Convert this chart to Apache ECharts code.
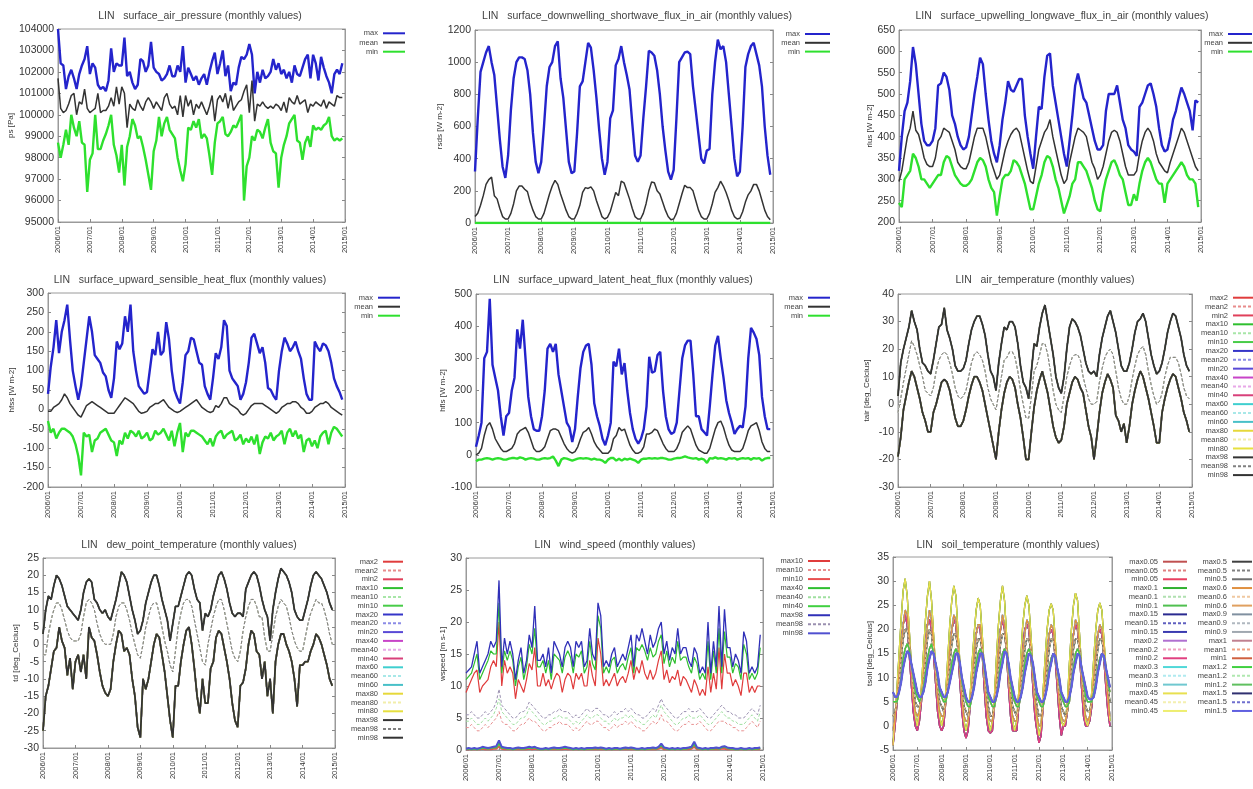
<!DOCTYPE html>
<html><head><meta charset="utf-8">
<script src="https://cdn.jsdelivr.net/npm/echarts@6.0.0/dist/echarts.min.js"></script>
<style>html,body{margin:0;padding:0;background:#fff}#c{width:1253px;height:789px}</style>
</head><body><div id="c"></div>
<script>
// ---------- categories ----------
const months = [];
for (let y = 2006; y <= 2015; y++) {
  for (let m = 1; m <= 12; m++) {
    if (y === 2015 && m > 1) break;
    months.push(y + '/' + (m < 10 ? '0' + m : '' + m));
  }
}

// ---------- surface_air_pressure ----------
const psMax = [
104000,102400,102300,101200,101800,102100,101700,101200,101900,102300,102600,103200,
101900,102400,102200,101400,101200,101300,101100,101600,103100,102000,102400,102300,
102300,103600,101800,102000,101500,101200,101400,102600,102500,102000,102300,103400,
102200,102000,101900,101600,101700,101900,102300,101800,101800,102300,102000,103200,
101500,102200,101900,101600,101800,101400,101700,101900,101400,102000,102500,102900,
101900,102400,103000,101800,102300,101100,101500,101400,102200,102700,102600,102800,
103300,102800,101000,102000,101500,102100,101700,101800,102000,102600,102100,102400,
101900,102100,101700,102000,101500,102300,101900,101800,102200,102600,102800,101700,
102800,102400,101600,102700,102200,101800,101500,101000,101900,102100,101900,102400];
const psMean = [
101700,100300,100100,100200,100500,100900,101000,100000,100600,100500,101200,100300,
100100,100200,100300,101000,100100,100200,100200,100400,100800,100400,101300,100500,
101300,101000,99400,100500,100300,100200,100700,100400,100200,100600,100800,100600,
100300,100600,100400,100200,100800,101000,100500,100300,100400,100000,100900,99900,
100900,100400,100700,100000,100500,100300,100600,100300,100000,100400,100900,99700,
100700,100900,100600,101000,100300,100900,100200,100400,100600,100700,101100,101400,
100100,101600,99700,100500,100400,100600,100400,100300,100400,100300,100500,100400,
100200,100600,100100,100800,100600,100500,100900,100500,100600,100700,100100,100500,
100400,100600,100500,100400,100700,100300,100600,100500,100400,100900,100800,100800];
const psMin = [
98700,98000,98600,99300,98600,100000,99400,99000,99700,98700,98600,96400,
97900,98200,100000,98400,98400,98800,99100,99500,100000,98600,98100,97300,
98600,96700,98500,99000,99800,99500,98900,99000,98500,97900,97200,96500,
98300,98800,99900,99000,99600,99900,99300,99100,98900,98000,97400,96900,
97700,99400,99300,99700,99400,99800,98900,99100,98900,98100,97200,98700,
99600,99700,99900,99100,99000,99200,99500,99400,99700,100000,96000,97600,
98000,99000,98800,99300,99200,98900,99400,99800,98700,98300,98200,96600,
98000,98600,99000,99600,99800,100000,98800,98700,97900,98700,99000,98500,
99500,99300,99400,99300,99500,99600,99900,99000,98800,98900,98800,98900];

// ---------- surface_downwelling_shortwave_flux_in_air ----------
const rsdsMax = [
320,650,940,1000,1060,1100,1000,920,720,520,350,280,
420,700,900,1000,1030,1030,1020,950,800,560,380,310,
380,600,850,970,1000,1100,1130,900,780,580,380,310,
320,560,850,880,1000,1120,1090,950,780,580,400,300,
380,650,700,980,1020,1100,1000,920,830,620,420,380,
420,650,850,1070,1060,1040,950,800,600,450,320,270,
330,650,1000,1030,1060,1065,1050,850,700,550,400,370,
450,460,800,1000,1140,1080,1100,1000,800,600,400,290,
320,600,970,1050,1100,1120,1050,980,850,600,420,300];
const rsdsMean = [
40,60,110,170,240,270,285,170,150,90,40,25,
25,60,120,200,230,230,210,195,130,80,40,25,
25,60,120,180,230,265,240,180,130,80,40,25,
25,60,110,190,220,215,225,200,140,90,40,25,
35,70,130,190,170,260,250,200,150,90,40,25,
25,60,120,200,255,250,200,180,130,80,40,20,
25,60,120,180,235,220,220,200,140,80,40,25,
25,60,120,190,220,260,230,190,140,80,40,25,
30,70,130,175,200,240,240,200,140,80,40,20];
const rsdsMin = [
0,0,0,0,0,0,0,0,0,0,0,0,
0,0,0,0,0,0,0,0,0,0,0,0,
0,0,0,0,0,0,0,0,0,0,0,0,
0,0,0,0,0,0,0,0,0,0,0,0,
0,0,0,0,0,0,0,0,0,0,0,0,
0,0,0,0,0,0,0,0,0,0,0,0,
0,0,0,0,0,0,0,0,0,0,0,0,
0,0,0,0,0,0,0,0,0,0,0,0,
0,0,0,0,0,0,0,0,0,0,0,0];

// ---------- surface_upwelling_longwave_flux_in_air ----------
const rlusMax = [
320,400,460,480,530,610,570,500,430,390,380,380,
390,420,520,525,550,540,510,450,430,400,380,370,
375,400,450,500,540,585,570,500,440,390,360,340,
380,440,480,530,510,505,520,535,535,450,400,360,
325,400,470,465,540,590,595,520,480,440,400,360,
330,390,450,520,548,520,490,480,450,420,390,370,
370,380,460,500,500,500,520,480,440,420,380,370,
365,355,470,480,500,520,525,500,470,420,380,365,
370,400,440,460,490,515,500,480,460,415,485,480];
const rlusMean = [
295,320,360,400,420,460,415,405,380,350,335,330,
330,350,390,400,420,415,410,390,370,340,330,325,
325,340,370,400,420,420,420,400,370,340,320,300,
310,340,370,390,405,415,420,410,380,350,320,295,
290,330,370,390,410,420,440,400,370,340,310,290,
300,340,370,400,420,415,410,400,370,340,325,300,
310,330,360,390,410,415,410,390,360,330,310,310,
310,320,360,390,410,420,410,390,360,340,330,320,
315,340,360,380,400,420,410,390,370,350,330,320];
const rlusMin = [
245,235,300,310,320,360,350,330,300,300,290,280,
290,300,310,310,340,355,350,330,310,300,290,285,
285,290,300,320,340,350,345,330,300,280,270,215,
260,300,310,310,320,345,340,330,310,290,260,230,
230,260,290,310,340,355,350,330,300,280,250,220,
240,260,290,300,340,340,330,320,300,280,250,230,
225,270,300,320,340,345,330,310,300,270,240,240,
265,250,290,320,340,350,340,320,300,290,290,245,
290,300,310,320,330,340,330,310,300,300,290,235];

// ---------- surface_upward_sensible_heat_flux ----------
const hfssMax = [
40,110,160,230,145,200,230,270,180,100,60,25,
60,120,180,240,200,140,130,120,95,85,50,30,
80,175,155,170,240,200,270,150,100,60,50,40,
45,100,155,140,200,140,150,225,180,100,50,30,
15,70,140,150,185,180,150,120,115,60,40,25,
80,145,130,160,230,215,100,80,70,60,25,40,
70,120,185,195,170,145,160,120,55,50,35,25,
100,150,185,170,150,160,175,150,130,80,40,25,
25,175,160,150,170,165,150,120,80,60,45,25];
const hfssMean = [
-5,-5,5,10,15,25,40,30,15,5,-5,-15,
-20,-5,10,15,20,15,10,5,0,-5,-10,-10,
-10,0,10,20,30,25,20,15,5,-5,-10,-8,
-5,5,10,15,15,20,25,15,5,0,-5,-8,
-5,0,5,10,15,20,25,15,5,0,-5,-8,
-5,10,5,15,30,30,15,10,5,0,-10,-15,
-10,0,10,15,15,15,15,10,5,0,-5,-10,
-5,5,10,15,15,20,20,15,5,0,-10,-10,
-5,5,10,15,15,20,15,5,0,-5,-10,-15];
const hfssMin = [
-30,-60,-50,-75,-60,-50,-50,-55,-60,-70,-90,-120,
-170,-60,-70,-65,-110,-80,-75,-60,-55,-50,-65,-80,
-85,-120,-80,-90,-60,-75,-55,-60,-70,-55,-75,-70,
-60,-80,-75,-55,-65,-60,-50,-65,-80,-55,-95,-60,
-35,-110,-60,-70,-55,-55,-60,-65,-70,-80,-90,-75,
-95,-70,-60,-55,-75,-65,-60,-55,-80,-75,-65,-90,
-75,-85,-70,-90,-65,-115,-85,-70,-75,-60,-80,-70,
-65,-55,-90,-60,-50,-70,-55,-75,-65,-110,-80,-75,
-95,-80,-100,-70,-60,-55,-90,-60,-45,-50,-60,-70];

// ---------- surface_upward_latent_heat_flux ----------
const hflsMax = [
25,60,100,300,320,485,280,240,200,120,60,120,
130,200,240,390,330,420,300,180,120,80,75,75,
120,200,330,345,320,345,250,200,150,100,85,40,
80,180,270,320,340,345,280,160,120,90,50,30,
60,100,290,275,330,250,285,200,130,80,50,35,
50,80,150,305,255,260,310,320,200,120,80,65,
70,100,200,300,340,355,355,250,120,120,80,70,
60,150,250,340,370,300,240,170,130,100,65,80,
90,85,150,300,395,380,360,310,180,120,80,80];
const hflsMean = [
0,5,20,60,90,100,80,50,35,20,10,10,
15,20,35,65,75,80,85,70,45,20,10,10,
15,25,50,75,80,80,75,55,35,20,10,5,
10,25,50,70,75,85,65,40,25,15,5,5,
5,15,50,60,85,75,80,55,30,15,5,5,
10,25,65,65,70,80,75,55,35,20,10,10,
10,20,40,70,80,90,80,55,30,15,10,5,
5,20,50,80,100,105,85,55,30,15,10,10,
10,20,45,75,90,95,100,75,40,20,10,10];
const hflsMin = [
-20,-15,-15,-12,-10,-12,-15,-12,-10,-12,-15,-15,
-12,-10,-10,-12,-8,-10,-15,-12,-10,-12,-15,-15,
-12,-10,-12,-10,-5,-18,-35,-15,-10,-12,-15,-18,
-15,-12,-10,-12,-10,-12,-15,-12,-15,-15,-18,-25,
-15,-10,-10,-18,-12,-18,-12,-15,-12,-15,-18,-25,
-15,-12,-12,-10,-12,-10,-12,-10,-10,-12,-15,-15,
-12,-10,-10,-8,-5,-8,-10,-12,-10,-15,-12,-15,
-25,-10,-12,-8,-12,-10,-12,-15,-10,-12,-10,-15,
-12,-10,-12,-10,-15,-10,-12,-10,-18,-12,-10,-10];

// ---------- air_temperature ----------
const tairMax = [
3,15,20,24,28,34,30,27,20,15,14,12,
11,16,22,28,29,35,27,24,20,14,12,12,
13,16,22,27,30,32,32,29,25,18,12,10,
5,15,22,28,27,30,30,28,22,14,8,6,
2,12,22,21,28,33,36,30,24,18,10,6,
4,10,20,28,31,30,28,25,20,15,12,11,
12,10,18,24,28,32,34,30,26,20,14,12,
12,15,20,26,30,31,33,30,24,18,14,11,
12,15,20,26,30,33,32,28,24,18,14,12];
const tairMean = [
-3,2,8,13,18,23,21,18,14,10,5,4,
3,6,12,16,18,19,18,15,11,6,3,2,
3,5,10,15,18,19,18,16,12,6,2,0,
-2,4,10,16,17,19,19,17,12,5,0,-5,
-5,3,12,14,18,22,22,18,12,5,0,-2,
-3,3,10,14,17,18,18,16,10,6,2,0,
0,1,8,13,17,19,20,18,12,6,2,0,
0,3,9,14,18,20,21,18,12,7,3,0,
1,4,10,14,17,17,17,15,11,6,3,2];
const tairMin = [
-19,-12,-2,3,8,12,10,6,2,-3,-6,-10,
-10,-3,0,4,8,9,8,5,0,-5,-8,-8,
-6,-2,3,7,10,10,8,5,0,-5,-10,-15,
-20,-10,-2,4,8,10,9,6,0,-5,-12,-20,
-20,-10,-1,5,9,12,8,4,-2,-8,-12,-14,
-13,-8,0,4,8,10,9,6,4,-2,-8,-12,
-20,-12,-3,4,8,11,9,6,-4,-6,-10,-7,
-14,-8,0,5,9,12,10,6,2,-3,-8,-14,
-14,-3,2,6,9,11,10,6,2,-3,-6,-10];

// ---------- dew_point_temperature ----------
const tdMax = [
3,10,14,13,17,20,19,17,14,11,10,9,
8,7,10,15,18,19,18,13,12,10,9,10,
8,7,10,13,17,21,20,18,14,10,7,3,
4,7,12,15,18,20,20,17,13,10,7,1,
6,11,11,14,17,20,21,20,16,13,12,4,
9,8,10,14,17,20,21,19,16,12,9,8,
9,9,8,16,18,20,21,20,17,13,10,8,
1,10,15,19,22,21,20,18,15,10,8,7,
7,10,13,17,20,21,20,19,17,15,12,10];
const tdMean = [
-3,-3,3,7,10,12,12,10,7,4,2,1,
1,1,3,8,12,13,12,10,6,3,1,0,
0,0,3,8,11,12,12,10,7,3,0,-3,
-4,0,5,8,11,12,12,9,5,1,-2,-6,
-8,-2,5,9,12,13,13,11,7,3,-1,-5,
-6,0,4,8,11,13,13,10,6,2,-2,-4,
-5,-2,4,8,11,13,13,11,8,8,2,-2,
-2,3,8,11,13,12,11,8,4,1,-1,-2,
-2,2,6,9,11,13,12,12,10,7,3,0];
const tdMin = [
-25,-15,-12,-7,-2,-1,5,1,-1,-9,-4,-13,
-5,-3,-8,-3,-10,5,2,1,-3,-8,-12,-14,
-15,-13,-5,0,4,3,-2,-1,-3,-10,-15,-24,
-27,-10,-13,-10,-5,0,3,2,-3,-8,-15,-22,
-27,-12,-12,-5,0,4,5,0,-7,-15,-20,-10,
-17,-17,-7,-5,2,4,3,-1,-5,-10,-17,-22,
-24,-12,-11,-7,0,4,3,-2,-3,-10,-5,-15,
-10,-20,-5,0,3,3,0,-2,-5,-10,-18,-6,
-6,-5,-5,-2,0,3,2,0,-3,-6,-10,-12];

// ---------- wind_speed ----------
const wsMax10 = [
9,10,11,12,12.5,9,10,10.5,11,13,14,13,
20,10,14,12,13,12,8,11,10,9,11,13.5,
12.5,16,10,10,12,10,11,9.5,11,12,11.5,9,
11,12,11.5,9.5,12,11,12,10,10,14,11.5,10,
17.5,15,10,11,10,11,12,10,11,11.5,10.5,12,
14,11,13,12,14,12,11,12.5,11,12,14,15.5,
11,12.5,10.5,11.5,11,12.5,10,11.5,11,10,9,11,
10,8.5,9.5,8.5,13,9,12,9.5,16,9.5,15,12,
12,10,11,10,8.5,12,12,9,10,9,10,10];
const wsMean10 = [
3.5,3.5,4,3.5,3,3,3.5,4,3.5,4,4.5,5,
6,4.5,4,4,3.5,3,3,3.5,4,4,4.5,5,
4.5,4.5,4,3.5,3,3,3.5,3.5,4,4,4.5,4,
4,4,3.5,3,3.5,3,3.5,4,4.5,4,4,4.5,
4.5,4,3.5,3.5,3,3.5,4,3.5,4,4,4.5,4,
4.5,4,3.5,3.5,3,3,3.5,4,4.5,4,4.5,5.5,
4.5,4.5,4,3.5,3,3,3.5,4,4,4.5,4,4,
4,4.5,4,3.5,3,3,3.5,4,4.5,4.5,4.5,4,
4,3.5,3.5,3,3,3,3.5,4,4.5,4,3.5,4.5];
const wsMin10 = [
0.1,0.1,0.1,0.1,0.1,0.1,0.2,0.1,0.1,0.1,0.2,0.2,
0.6,0.2,0.1,0.1,0.1,0.1,0.1,0.1,0.1,0.1,0.1,0.2,
0.1,0.2,0.1,0.1,0.1,0.1,0.1,0.1,0.1,0.1,0.1,0.1,
0.2,0.1,0.1,0.1,0.1,0.1,0.1,0.1,0.1,0.1,0.1,0.1,
0.1,0.1,0.1,0.1,0.1,0.1,0.1,0.1,0.1,0.1,0.1,0.1,
0.1,0.1,0.1,0.1,0.1,0.1,0.1,0.1,0.1,0.1,0.2,0.4,
0.1,0.1,0.1,0.1,0.1,0.1,0.1,0.1,0.1,0.1,0.2,0.5,
0.1,0.1,0.1,0.1,0.1,0.1,0.1,0.1,0.1,0.2,0.2,0.1,
0.1,0.1,0.1,0.1,0.1,0.1,0.1,0.1,0.1,0.1,0.1,0.1];
const wsMax40 = [
11,11.5,12,13.5,15,11,12,13,14,15.5,15,15,
23,12,15.5,14,15.5,14,10,13,14.5,11,13,16.5,
15,19,13,13,14,12,14,11,15,14.5,14,12,
14.5,15.5,14.5,12,15,14.5,15.5,12,13,17,13.5,12.5,
21,19,12,13,12,14,14.5,12,13,13.5,12.5,14.5,
16,12,16,15.5,16.5,15.5,14,16,14.5,15,17,18,
13.5,15.5,13,14.5,13.5,17,14,14.5,14.5,13,12,14.5,
13.5,11,12,11,17,11,15.5,12,19,12,18.5,14.5,
14.5,12,13.5,13,11,16.5,15,11,12,11,12,16];
const wsMean40 = [
4.5,4.5,5,4.5,4,4,4.5,5,4.5,5,5.5,6.5,
8,6,5.5,5,4.5,4,4,4.5,5,5,5.5,6.5,
6,5.5,5,4.5,4,4,4.5,4.5,5,5,5.5,5,
5,5,4.5,4,4.5,4,4.5,5,5.5,5,5,5.5,
5.5,5,4.5,4.5,4,4.5,5,4.5,5,5,5.5,5,
5.5,5,4.5,4.5,4,4,4.5,5,5.5,5,6,7,
6,5.5,5,4.5,4,4,4.5,5,5,5.5,5,5,
5,5.5,5,4.5,4,4,4.5,5,5.5,6,5.5,5,
5,4.5,4.5,4,4,4,4.5,5,5.5,5,4.5,6];
const wsMin40 = [
0.2,0.2,0.1,0.2,0.1,0.2,0.3,0.3,0.2,0.3,0.4,0.4,
1.0,0.3,0.3,0.2,0.2,0.1,0.2,0.3,0.2,0.2,0.3,0.3,
0.3,0.4,0.2,0.1,0.1,0.2,0.1,0.2,0.3,0.2,0.2,0.3,
0.3,0.3,0.2,0.1,0.2,0.1,0.2,0.1,0.2,0.2,0.2,0.3,
0.2,0.3,0.2,0.1,0.2,0.1,0.2,0.2,0.1,0.2,0.3,0.2,
0.3,0.2,0.1,0.1,0.2,0.1,0.2,0.2,0.3,0.2,0.4,0.7,
0.3,0.2,0.1,0.2,0.1,0.2,0.1,0.2,0.2,0.3,0.4,0.9,
0.3,0.2,0.1,0.2,0.1,0.2,0.2,0.3,0.2,0.4,0.5,0.3,
0.2,0.2,0.1,0.1,0.2,0.1,0.1,0.2,0.1,0.2,0.2,0.3];
const wsMax98 = [
12,12.5,13,15,17,12,13,14,15,17,16,17,
26.5,13,17.5,15,17,15,11,14,16,12,14,18,
16,22.5,14,14,15,13,16,12,17,16,15,13,
16,17,16,13,17,16,17,13,14,19,15,14,
23,21,13,14,13,15,16,13,14,15,14,16,
18,13,18,17,19,17,15,18,16,17,19,20,
15,17,14,16,15,19,15,16,16,14,13,16,
15,12,13,12,20,12,17,13,22.5,13,22,16,
16,13,15,14,12,18.5,17,12,13,12,13,18];
const wsMean98 = [
5.5,5.5,6,5.5,5,5,5.5,6,5.5,6,6.5,7.5,
9.5,7,6.5,6,5.5,5,5,5.5,6,6,6.5,7.5,
7,6.5,6,5.5,5,5,5.5,5.5,6,6,6.5,6,
6,6,5.5,5,5.5,5,5.5,6,6.5,6,6,6.5,
6.5,6,5.5,5.5,5,5.5,6,5.5,6,6,6.5,6,
6.5,6,5.5,5.5,5,5,5.5,6,6.5,6,7,8,
7,6.5,6,5.5,5,5,5.5,6,6,6.5,6,6,
6,6.5,6,5.5,5,5,5.5,6,6.5,7,6.5,6,
6,5.5,5.5,5,5,5,5.5,6,6.5,6,5.5,7];
const wsMin98 = [
0.2,0.3,0.2,0.3,0.2,0.3,0.5,0.4,0.3,0.4,0.5,0.6,
1.5,0.5,0.4,0.3,0.3,0.2,0.3,0.4,0.3,0.3,0.4,0.5,
0.4,0.5,0.3,0.2,0.2,0.3,0.2,0.3,0.4,0.3,0.3,0.4,
0.5,0.4,0.3,0.2,0.3,0.2,0.3,0.2,0.3,0.3,0.3,0.4,
0.3,0.4,0.3,0.2,0.3,0.2,0.3,0.3,0.2,0.3,0.4,0.3,
0.4,0.3,0.2,0.2,0.3,0.2,0.3,0.3,0.4,0.3,0.5,1.0,
0.4,0.3,0.2,0.3,0.2,0.3,0.2,0.3,0.3,0.4,0.5,1.3,
0.4,0.3,0.2,0.3,0.2,0.3,0.3,0.4,0.3,0.5,0.6,0.4,
0.3,0.3,0.2,0.2,0.3,0.2,0.2,0.3,0.2,0.3,0.3,0.4];

// ---------- soil_temperature (depth groups) ----------
const soilA = [
-4,2,8,15,22,28,30.5,27,20,13,6,2,
0,3,8,15,22,27,30,26,19,12,6,2,
0,2,7,14,21,26,29,27,20,13,6,1,
-1,1,6,13,19,24,26.5,25,19,12,5,1,
-1,1,6,14,21,26,29,26,19,11,5,1,
-1,1,7,14,21,25,27,25,19,12,5,1,
-2,0,7,14,20,24,25.3,24,18,11,5,1,
0,1,5,13,20,25,27.5,26,19,12,5,1,
0,2,7,14,20,24,25.5,24,18,12,6,1];
const soilB = [
-4,0,5,11,17,21,23,21,15,9,3,0,
-1,1,5,11,17,21,22,20,15,9,3,0,
-1,0,5,10,16,20,22,21,16,9,3,-1,
-2.5,-1,4,10,15,19,21,20,15,8,2,-1,
-1.5,-1,4,10,16,20,22,20,15,8,2,-1,
-1,-1,4,10,16,20,21,20,15,8,2,-1,
-3.5,-2,4,10,15,19,20,19,14,8,2,-2,
0,0,3,9,15,19,21,20,15,8,2,0,
0,1,4,10,15,19,20,19,14,8,3,0];
const soilC = [
-1,2,6,11,16,21,24,23,18,12,6,3,
2,3,6,11,16,21,24,22,17,11,6,3,
2,2,5,10,16,20,23,22,17,11,6,2,
1,1,4,9,15,19,21,21,16,10,5,2,
1,1,4,10,15,20,23,21,16,10,5,2,
1,1,5,10,15,19,22,21,16,10,5,2,
0,0,4,10,15,19,21,20,16,10,5,2,
1,1,3,9,15,19,22,21,16,10,5,2,
1,2,5,10,15,19,21,20,16,10,6,2];
const soilD = [
2,3,5,9,14,18,20,20,17,13,8,5,
4,4,6,9,14,18,20,19,16,12,8,5,
4,3,5,9,13,17,19,19,16,12,8,4,
3,2,4,8,12,16,18,18,16,12,7,4,
2,2,4,8,12,17,19,19,16,12,7,4,
3,2,4,8,12,16,18,18,16,12,7,4,
2,2,4,8,12,16,18,18,15,11,7,4,
3,2,3,7,12,16,18,18,16,12,7,4,
3,3,5,8,12,16,18,18,15,12,8,5];
const soilE = [
5,5,5,7,10,14,16,17,16,13,10,7,
6,5,6,8,11,14,16,17,15,13,10,7,
6,5,5,7,10,13,15,16,15,13,9,7,
5,4,4,6,9,13,15,16,15,12,9,6,
5,4,4,6,9,13,15,16,15,12,9,6,
5,4,4,6,9,13,15,16,15,12,9,6,
5,4,4,6,9,12,14,15,14,12,9,6,
5,4,4,5,9,12,15,16,15,12,9,6,
5,5,5,7,9,12,14,15,14,12,9,7];
const soilF = [
7,6,6,7,9,12,14,15.5,15,13,11,9,
7,6,6,7,9,12,14,15.5,15,13,11,8,
7,6,6,7,9,11,13,15,15,13,10,8,
6,5,5,6,8,11,13,15,15,13,10,7,
6,5,5,6,8,11,13,15.5,15,13,10,8,
6,5,5,6,8,11,13,15,14.5,13,10,7,
6,5,5,6,8,11,13,15,14.5,12,10,7,
6,5,5,6,8,11,13,15,14.5,12,10,8,
6,5.5,5.5,6,8,11,13,15,14.5,12,10,8];

// ---------- tick labels / names ----------
const panelTitles = [
  'LIN   surface_air_pressure (monthly values)',
  'LIN   surface_downwelling_shortwave_flux_in_air (monthly values)',
  'LIN   surface_upwelling_longwave_flux_in_air (monthly values)',
  'LIN   surface_upward_sensible_heat_flux (monthly values)',
  'LIN   surface_upward_latent_heat_flux (monthly values)',
  'LIN   air_temperature (monthly values)',
  'LIN   dew_point_temperature (monthly values)',
  'LIN   wind_speed (monthly values)',
  'LIN   soil_temperature (monthly values)'];
const yNames = ['ps [Pa]','rsds [W m-2]','rlus [W m-2]','hfss [W m-2]','hfls [W m-2]',
  'tair [deg_Celcius]','td [deg_Celcius]','wspeed [m s-1]','tsoil [deg_Celcius]'];
const yRanges = [[95000,104000,1000],[0,1200,200],[200,650,50],[-200,300,50],[-100,500,100],
  [-30,40,10],[-30,25,5],[0,30,5],[-5,35,5]];

// ---------- layout ----------
const grids = [
  [58,29,287,193],[475,30,298,193],[899,30,302,192],
  [48,293,297,194],[476,294,297,193],[898,294,294,193],
  [43,558,292,190],[466,558,297,192],[893,557,219,193]];
const nameGaps = [39,26,23,32,26,27,19,17,16];
const titlePos = [[200,16],[637,16],[1062,16],[190,280],[623,280],[1045,280],[189,545],[615,545],[1008,545]];

const BLUE = '#2424cc', DARK = '#333333', GREEN = '#2ee02e';
function triple(mx, mn, mi) {
  return [
    {name:'max', data:mx, color:BLUE, width:2.4},
    {name:'mean', data:mn, color:DARK, width:1.5},
    {name:'min', data:mi, color:GREEN, width:2.4}];
}
const heightStyles = [
  ['2','#e03c3c','#e88c8c','#e0405a'],
  ['10','#2fbf2f','#a8e6a8','#48cc48'],
  ['20','#3535c8','#8c8ce6','#5a4ad6'],
  ['40','#c844c8','#e8a8e8','#d8407a'],
  ['60','#3fcfcf','#a8e8e8','#48c0c8'],
  ['80','#e6d83a','#f2eeaa','#e6e040'],
  ['98','#333333','#808080','#333333']];
function heights(mx, mn, mi) {
  const out = [];
  heightStyles.forEach(h => {
    const thick = h[0] === '98' ? 1.8 : 1.2;
    out.push({name:'max' + h[0], data:mx, color:h[1], width:thick});
    out.push({name:'mean' + h[0], data:mn, color:h[2], width:1, dash:true});
    out.push({name:'min' + h[0], data:mi, color:h[3], width:h[0] === '98' ? 1.8 : 1.5});
  });
  return out;
}
const Z = '\u200b';
const windSeries = [
  {name:'max10'+Z, data:wsMax10, color:'#e03c3c', width:1.2},
  {name:'mean10'+Z, data:wsMean10, color:'#e89090', width:1, dash:true},
  {name:'min10'+Z, data:wsMin10, color:'#e85050', width:2},
  {name:'max40'+Z, data:wsMax40, color:'#2fbf2f', width:1.2},
  {name:'mean40'+Z, data:wsMean40, color:'#a0e0a0', width:1, dash:true},
  {name:'min40'+Z, data:wsMin40, color:'#40d040', width:2},
  {name:'max98'+Z, data:wsMax98, color:'#3030b8', width:1.3},
  {name:'mean98'+Z, data:wsMean98, color:'#9a90b0', width:1, dash:true},
  {name:'min98'+Z, data:wsMin98, color:'#5050d0', width:2}];
const soilDef = [
  ['0.05', soilA, soilB, soilB, '#c05050','#e08080','#e84060'],
  ['0.1',  soilA, soilB, soilB, '#30b030','#b0e0b0','#50c050'],
  ['0.15', soilC, soilC, soilB, '#2a2a90','#6060c0','#3a3ab0'],
  ['0.2',  soilC, soilC, soilB, '#b070d0','#f0a0c0','#e04080'],
  ['0.3',  soilC, soilC, soilD, '#50d8d8','#b0eaf0','#70c8d0'],
  ['0.45', soilA, soilD, soilD, '#e8e050','#f4f0b0','#eeee70'],
  ['0.5',  soilD, soilD, soilD, '#404040','#808080','#707070'],
  ['0.6',  soilC, soilD, soilE, '#e09040','#f0c8a0','#e0a060'],
  ['0.9',  soilE, soilE, soilE, '#8090a0','#b0b8c0','#a0a8b0'],
  ['1',    soilE, soilE, soilF, '#c08090','#f0a080','#d06040'],
  ['1.2',  soilE, soilF, soilF, '#40d040','#b0e8b0','#60c060'],
  ['1.5',  soilF, soilF, soilF, '#303070','#7070d0','#6060e0']];
const soilSeries = [];
soilDef.forEach(d => {
  soilSeries.push({name:'max'+d[0], data:d[1], color:d[4], width:1.3});
  soilSeries.push({name:'mean'+d[0], data:d[2], color:d[5], width:1, dash:true});
  soilSeries.push({name:'min'+d[0], data:d[3], color:d[6], width:d[0]==='1.5'?2.2:1.5});
});

const panelSeries = [
  triple(psMax, psMean, psMin),
  triple(rsdsMax, rsdsMean, rsdsMin),
  triple(rlusMax, rlusMean, rlusMin),
  triple(hfssMax, hfssMean, hfssMin),
  triple(hflsMax, hflsMean, hflsMin),
  heights(tairMax, tairMean, tairMin),
  heights(tdMax, tdMean, tdMin),
  windSeries,
  soilSeries];

// legend item height is ~8px with 7.5px text; gap = spacing - 8
const ITEM_H = 8;
const legendDefs = [
  {p:0, left:352, top:29.3, tw:26, iw:22, sp:9.2},
  {p:1, left:774, top:30, tw:26, iw:25, sp:8.8},
  {p:2, left:1197, top:30, tw:26, iw:24, sp:8.8},
  {p:3, left:347, top:293.7, tw:26, iw:22, sp:9},
  {p:4, left:777, top:293.7, tw:26, iw:22, sp:9},
  {p:5, left:1196, top:293.7, tw:32, iw:20, sp:8.87},
  {p:6, left:346, top:557.7, tw:32, iw:20, sp:8.8},
  {p:7, left:771, top:557, tw:32, iw:22, sp:9.04},
  {p:8, left:1120, top:557.7, tw:38, iw:24, sp:8.78, from:0, to:18},
  {p:8, left:1195, top:557.7, tw:32, iw:20, sp:8.78, from:18, to:36}];

// ---------- build option ----------
const option = {
  animation: false,
  backgroundColor: '#ffffff',
  textStyle: {fontFamily: 'Liberation Sans, Arial, sans-serif'},
  grid: [], xAxis: [], yAxis: [], series: [], legend: [], graphic: []
};
const axisGray = {color:'#9a9a9a'};
grids.forEach((g, i) => {
  option.grid.push({left:g[0], top:g[1], width:g[2], height:g[3], show:true,
    borderColor:'#9a9a9a', borderWidth:1, containLabel:false, outerBoundsMode:'none'});
  option.xAxis.push({type:'category', gridIndex:i, data:months, boundaryGap:false,
    axisLine:{show:true, onZero:false, lineStyle:axisGray},
    axisTick:{show:true, inside:true, interval:11, length:3, lineStyle:{color:'#888'}},
    axisLabel:{interval:11, rotate:90, fontSize:7.5, color:'#333', margin:4},
    splitLine:{show:false}});
  const r = yRanges[i];
  option.yAxis.push({type:'value', gridIndex:i, min:r[0], max:r[1], interval:r[2],
    name:yNames[i], nameLocation:'middle', nameGap:nameGaps[i],
    nameTextStyle:{fontSize:8, color:'#333'},
    axisLine:{show:true, onZero:false, lineStyle:axisGray},
    axisTick:{show:true, inside:true, length:3, lineStyle:{color:'#888'}},
    axisLabel:{fontSize:10.5, color:'#333', margin:4, formatter: v => String(v)},
    splitLine:{show:false}});
});
grids.forEach((g, i) => {
  const r = yRanges[i];
  option.yAxis.push({type:'value', gridIndex:i, position:'right', min:r[0], max:r[1], interval:r[2],
    axisLine:{show:true, onZero:false, lineStyle:axisGray},
    axisTick:{show:true, inside:true, length:3, lineStyle:{color:'#888'}},
    axisLabel:{show:false}, splitLine:{show:false}});
});
grids.forEach((g, i) => {
  panelSeries[i].forEach(s => {
    option.series.push({type:'line', name:s.name, xAxisIndex:i, yAxisIndex:i, data:s.data,
      symbol:'none', showSymbol:false, smooth:false,
      lineStyle:{color:s.color, width:s.width, type:s.dash ? [3,2] : 'solid'},
      itemStyle:{color:s.color}, emphasis:{disabled:true}});
  });
  option.graphic.push({type:'text', x:titlePos[i][0], y:titlePos[i][1],
    style:{text:panelTitles[i], fill:'#444', font:'10.5px "Liberation Sans", Arial, sans-serif',
      textAlign:'center', textVerticalAlign:'middle'}});
});
legendDefs.forEach(L => {
  let names = panelSeries[L.p].map(s => s.name);
  if (L.from !== undefined) names = names.slice(L.from, L.to);
  option.legend.push({orient:'vertical', left:L.left, top:L.top, align:'right',
    itemWidth:L.iw, itemHeight:6, itemGap:L.sp - ITEM_H, padding:0, selectedMode:false,
    itemStyle:{opacity:0},
    data:names,
    textStyle:{fontSize:7.5, color:'#444', width:L.tw, align:'right', lineHeight:6, overflow:'none'}});
});

const chart = echarts.init(document.getElementById('c'), null, {renderer:'canvas', width:1253, height:789});
chart.setOption(option);
</script></body></html>
